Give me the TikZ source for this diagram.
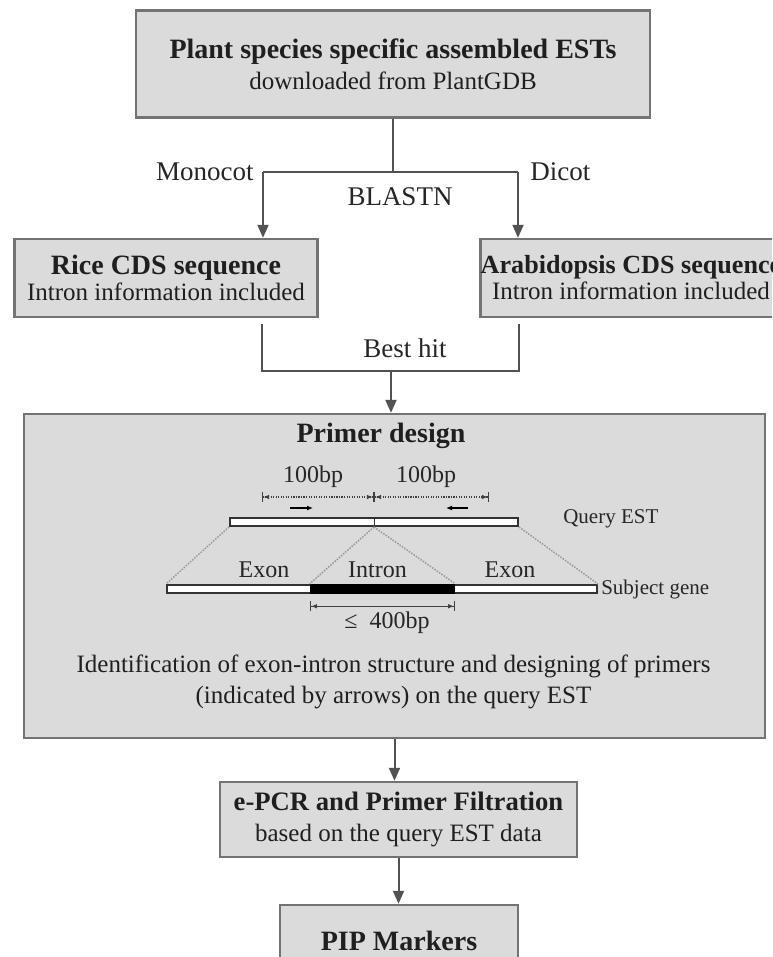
\documentclass[tikz,border=0pt]{standalone}
\usepackage{fontspec}
\setmainfont{Liberation Serif}
\usetikzlibrary
  {
    arrows.meta,  % triangle tips
    positioning,  % place nodes relative to other nodes
    calc,
  }

\newlength\pxl
\setlength\pxl{0.75pt}
\newcommand\headfont{\fontsize{21pt}{24pt}\selectfont\bfseries}
\newcommand\bodyfont{\fontsize{18.75pt}{22.5pt}\selectfont}
\newcommand\labelfont{\fontsize{20.25pt}{24pt}\selectfont}
\newcommand\markfont{\fontsize{18pt}{21pt}\selectfont}
\newcommand\tagfont{\fontsize{15.75pt}{18pt}\selectfont}

\begin{document}
\begin{tikzpicture}
    [
      x=0.75pt, y=-0.75pt,
      >={Latex[length=4.5pt, width=3.75pt]},
      stage/.style=
        {
          rectangle,
          draw=black!55,
          line width=2.5\pxl,
          fill=black!14,
          inner sep=0pt,
          align=center,
          text=black!88,
          font=\bodyfont,
        },
      flow/.style=
        {
          draw=black!68,
          line width=2\pxl,
          -{Triangle[length=9.75pt, width=8.25pt]},
        },
      link/.style={draw=black!68, line width=2\pxl},
      lbl/.style={font=\labelfont, text=black!85, inner sep=0pt},
      bplabel/.style={font=\markfont, text=black!85, inner sep=0pt},
      sidelabel/.style={font=\tagfont, text=black!85, inner sep=0pt},
      strand/.style=
        {
          rectangle,
          draw=black!80,
          fill=white,
          line width=2\pxl,
          inner sep=0pt,
          minimum height=8\pxl,
        },
      guide/.style={draw=black!40, densely dotted, line width=1.5\pxl},
      span/.style=
        {
          {Bar[width=7.5pt, line width=0.9pt]Latex[length=4.5pt, width=3.5pt]}-%
          {Latex[length=4.5pt, width=3.5pt]Bar[width=7.5pt, line width=0.9pt]},
          draw=black!75,
          line width=0.9pt,
        },
      primer/.style={->, draw=black, line width=1.5\pxl},
    ]
    \clip (0,0) rectangle (772,957);
    \fill [white] (0,0) rectangle (772,957);

    % boxes of the pipeline
    \node (ests) [stage, minimum width=514\pxl, minimum height=107\pxl] at (393,64)
      {{\headfont Plant species specific assembled ESTs}\\[1pt]downloaded from PlantGDB};
    \node (rice) [stage, minimum width=303\pxl, minimum height=78\pxl] at (166,278)
      {{\headfont Rice CDS sequence}\\[-3pt]Intron information included};
    \node (arab) [stage, minimum width=300\pxl, minimum height=78\pxl] at (631,278)
      {{\headfont\fontsize{19.6pt}{24pt}\selectfont Arabidopsis CDS sequence}\\[-3pt]Intron information included};
    \node (primer) [stage, minimum width=741\pxl, minimum height=324\pxl] at (394.5,576) {};
    \node (epcr) [stage, minimum width=357\pxl, minimum height=75\pxl] at (398.5,819.5)
      {{\headfont\fontsize{20pt}{24pt}\selectfont e-PCR and Primer Filtration}\\[1pt]based on the query EST data};
    \node (pip) [stage, minimum width=238\pxl, minimum height=72\pxl] at (399,941)
      {\headfont PIP Markers};

    % BLASTN fork
    \coordinate (mono) at (263,172);
    \coordinate (dico) at (518,172);
    \draw [link] (ests.south) -- (ests.south |- mono);
    \draw [link] (mono) -- (dico);
    \draw [flow] (mono) -- (mono |- rice.north);
    \draw [flow] (dico) -- (dico |- arab.north);
    \node (monocot) [lbl, left=9\pxl of mono] {Monocot};
    \node (dicot) [lbl, right=12\pxl of dico] {Dicot};
    \node (blastn) [lbl] at (400,197) {BLASTN};

    % best hit join
    \coordinate (hitL) at (262,371);
    \coordinate (hitR) at (519,371);
    \coordinate (hitM) at (391,371);
    \draw [link, shorten <=6\pxl, shorten >=6\pxl]
      (hitL |- rice.south) -- (hitL) -- (hitR) -- (hitR |- arab.south);
    \draw [flow] (hitM) -- (hitM |- primer.north);
    \node (besthit) [lbl] at (405,348) {Best hit};

    % primer design panel
    \node (design) [font=\headfont, text=black!88, inner sep=0pt] at (381,436) {Primer design};
    \node (query) [strand, minimum width=288\pxl] at (374,522) {};
    \draw [draw=black!80, line width=1\pxl] (query.north) -- (query.south);
    \node (querytag) [sidelabel, anchor=west] at (563,519) {Query EST};

    \coordinate (dimL) at (262,497);
    \coordinate (dimM) at (374,497);
    \coordinate (dimR) at (489,497);
    \draw [span, densely dotted] (dimL) -- (dimM);
    \draw [span, densely dotted] (dimM) -- (dimR);
    \node (bpL) [bplabel] at (313,477) {100bp};
    \node (bpR) [bplabel] at (426,477) {100bp};

    \coordinate (fwdA) at (290,508);
    \coordinate (fwdB) at (313,508);
    \coordinate (revA) at (468,508);
    \coordinate (revB) at (446,508);
    \draw [primer] (fwdA) -- (fwdB);
    \draw [primer] (revA) -- (revB);

    \node (subject) [strand, minimum width=430\pxl] at (382,589) {};
    \node (intron) [rectangle, fill=black, inner sep=0pt, minimum width=145\pxl,
      minimum height=10\pxl] at (382.5,589) {};
    \node (subjecttag) [sidelabel, right=3\pxl of subject] {Subject gene};

    \draw [guide] (query.south west) -- (subject.north west);
    \draw [guide] (query.south east) -- (subject.north east);
    \draw [guide] (query.south) -- (intron.north west);
    \draw [guide] (query.south) -- (intron.north east);

    \node (exonL) [bplabel] at (264,570) {Exon};
    \node (intronlbl) [bplabel] at (377.5,570) {Intron};
    \node (exonR) [bplabel] at (510,570) {Exon};

    \draw [span] ($(intron.south west)+(0,12)$) -- ($(intron.south east)+(0,12)$);
    \node (maxlen) [bplabel] at (387,623) {≤~~400bp};

    \node (ident) [font=\bodyfont, text=black!88, align=center, inner sep=0pt] at (393.5,682)
      {Identification of exon-intron structure and designing of primers\\[1pt]
       (indicated by arrows) on the query EST};

    % remaining flow
    \draw [flow] (primer.south) -- (primer.south |- epcr.north);
    \draw [flow] (epcr.south) -- (epcr.south |- pip.north);
\end{tikzpicture}
\end{document}
